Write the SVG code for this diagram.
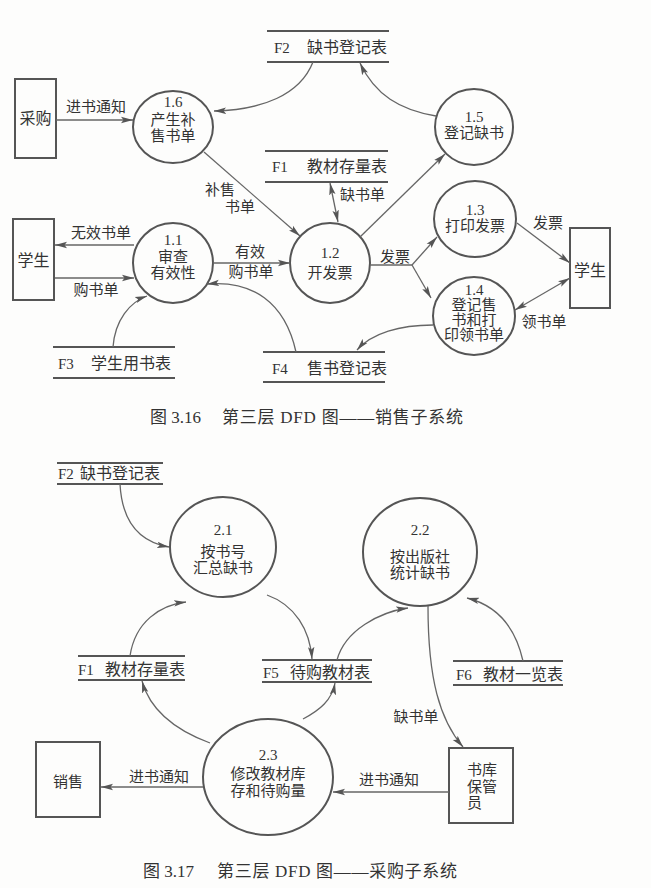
<svg xmlns="http://www.w3.org/2000/svg" width="651" height="888" viewBox="0 0 651 888">
<defs>
<marker id="ah" markerUnits="userSpaceOnUse" markerWidth="13" markerHeight="8" refX="12" refY="4" orient="auto-start-reverse">
<path d="M0,0.8 L12,4 L0,7.2 L2.5,4 z" fill="#555"/>
</marker>
<style>
.t{font-family:"Liberation Serif","Noto Sans CJK SC",serif;font-size:15px;fill:#333}
.c{text-anchor:middle}
.n{fill:none;stroke:#555;stroke-width:2}
.b{fill:none;stroke:#555;stroke-width:2}
.s{stroke:#555;stroke-width:2}
.e{fill:none;stroke:#666;stroke-width:1.3;marker-end:url(#ah)}
.d{fill:none;stroke:#666;stroke-width:1.3;marker-end:url(#ah);marker-start:url(#ah)}
.cap{font-family:"Liberation Serif","Noto Sans CJK SC",serif;font-size:17px;fill:#333}
</style>
</defs>
<rect width="651" height="888" fill="#fdfdfc"/>

<!-- ============ Figure 3.16 ============ -->
<g id="F2a"><line class="s" x1="267" y1="31" x2="389" y2="31"/><line class="s" x1="267" y1="62" x2="389" y2="62"/>
<text class="t" x="274" y="53">F2</text><text class="t" x="307" y="53" style="font-size:16px">缺书登记表</text></g>
<g id="caigou"><rect class="b" x="15" y="79" width="41" height="79"/><text class="t c" x="35.5" y="124" style="font-size:16px">采购</text></g>
<g id="p16"><ellipse class="n" cx="173" cy="127" rx="40" ry="36"/>
<text class="t c" x="173" y="107">1.6</text><text class="t c" x="173" y="125">产生补</text><text class="t c" x="173" y="141">售书单</text></g>
<g id="p15"><ellipse class="n" cx="474" cy="127" rx="39" ry="38"/>
<text class="t c" x="474" y="122">1.5</text><text class="t c" x="474" y="138">登记缺书</text></g>
<g id="F1a"><line class="s" x1="265" y1="151" x2="388" y2="151"/><line class="s" x1="265" y1="182" x2="388" y2="182"/>
<text class="t" x="272" y="172">F1</text><text class="t" x="307" y="172" style="font-size:16px">教材存量表</text></g>
<g id="p12"><ellipse class="n" cx="330" cy="263" rx="40" ry="40"/>
<text class="t c" x="330" y="258">1.2</text><text class="t c" x="330" y="278">开发票</text></g>
<g id="p11"><ellipse class="n" cx="173" cy="263" rx="40" ry="40"/>
<text class="t c" x="173" y="245">1.1</text><text class="t c" x="173" y="262">审查</text><text class="t c" x="173" y="278">有效性</text></g>
<g id="xs1"><rect class="b" x="13" y="219" width="41" height="81"/><text class="t c" x="33.5" y="266" style="font-size:16px">学生</text></g>
<g id="F3"><line class="s" x1="53" y1="347" x2="175" y2="347"/><line class="s" x1="53" y1="378" x2="175" y2="378"/>
<text class="t" x="58" y="369">F3</text><text class="t" x="91" y="369" style="font-size:16px">学生用书表</text></g>
<g id="F4"><line class="s" x1="263" y1="352" x2="385" y2="352"/><line class="s" x1="263" y1="382" x2="385" y2="382"/>
<text class="t" x="272" y="374">F4</text><text class="t" x="307" y="374" style="font-size:16px">售书登记表</text></g>
<g id="p13"><ellipse class="n" cx="475" cy="219" rx="41" ry="38"/>
<text class="t c" x="475" y="215">1.3</text><text class="t c" x="475" y="231">打印发票</text></g>
<g id="p14"><ellipse class="n" cx="474" cy="316" rx="41" ry="39"/>
<text class="t c" x="474" y="295">1.4</text><text class="t c" x="474" y="310">登记售</text><text class="t c" x="474" y="325">书和打</text><text class="t c" x="474" y="340">印领书单</text></g>
<g id="xs2"><rect class="b" x="570" y="228" width="40" height="80"/><text class="t c" x="590" y="276" style="font-size:16px">学生</text></g>
<text class="cap" x="150" y="423">图 3.16</text>
<text class="cap" x="222" y="423" textLength="241" lengthAdjust="spacing">第三层 DFD 图——销售子系统</text>

<!-- ============ Figure 3.17 ============ -->
<g id="F2b"><line class="s" x1="57" y1="463" x2="163" y2="463"/><line class="s" x1="57" y1="484" x2="163" y2="484"/>
<text class="t" x="58" y="479">F2</text><text class="t" x="80" y="479" style="font-size:16px">缺书登记表</text></g>
<g id="p21"><ellipse class="n" cx="223" cy="547" rx="53" ry="50"/>
<text class="t c" x="223" y="535">2.1</text><text class="t c" x="223" y="557">按书号</text><text class="t c" x="223" y="573">汇总缺书</text></g>
<g id="p22"><ellipse class="n" cx="420" cy="552" rx="57" ry="54"/>
<text class="t c" x="420" y="535">2.2</text><text class="t c" x="420" y="562">按出版社</text><text class="t c" x="420" y="578">统计缺书</text></g>
<g id="F1b"><line class="s" x1="78" y1="656" x2="185" y2="656"/><line class="s" x1="78" y1="680" x2="185" y2="680"/>
<text class="t" x="78" y="675">F1</text><text class="t" x="105" y="675" style="font-size:16px">教材存量表</text></g>
<g id="F5"><line class="s" x1="262" y1="660" x2="372" y2="660"/><line class="s" x1="262" y1="682" x2="372" y2="682"/>
<text class="t" x="263" y="678">F5</text><text class="t" x="290" y="678" style="font-size:16px">待购教材表</text></g>
<g id="F6"><line class="s" x1="453" y1="661" x2="563" y2="661"/><line class="s" x1="453" y1="685" x2="563" y2="685"/>
<text class="t" x="456" y="680">F6</text><text class="t" x="483" y="680" style="font-size:16px">教材一览表</text></g>
<g id="skbgy"><rect class="b" x="449" y="748" width="64" height="75"/>
<text class="t" x="467" y="775">书库</text><text class="t" x="467" y="792">保管</text><text class="t" x="467" y="808">员</text></g>
<g id="p23"><ellipse class="n" cx="268" cy="777" rx="65" ry="58"/>
<text class="t c" x="268" y="760">2.3</text><text class="t c" x="268" y="779">修改教材库</text><text class="t c" x="268" y="796">存和待购量</text></g>
<g id="xiaoshou"><rect class="b" x="36" y="742" width="64" height="75"/><text class="t c" x="68" y="787">销售</text></g>
<text class="cap" x="143" y="877">图 3.17</text>
<text class="cap" x="217" y="877" textLength="240" lengthAdjust="spacing">第三层 DFD 图——采购子系统</text>

<!-- ============ connectors ============ -->
<g id="connectors">
<path class="e" d="M56,120 L133,120"/>
<text class="t c" x="96" y="112">进书通知</text>
<path class="e" d="M313,62 C300,95 262,110 214,111"/>
<path class="e" d="M436,116 C400,110 375,95 360,63"/>
<path class="d" d="M330,183 L338,222"/>
<text class="t" x="340" y="200">缺书单</text>
<path class="e" d="M204,152 L300,236"/>
<text class="t" x="205" y="195">补售</text><text class="t" x="225" y="212">书单</text>
<path class="e" d="M360,237 L445,154"/>
<path class="e" d="M134,245 L55,245"/>
<text class="t c" x="101" y="238">无效书单</text>
<path class="e" d="M55,278 L134,278"/>
<text class="t c" x="96" y="295">购书单</text>
<path class="e" d="M213,263 L290,263"/>
<text class="t c" x="250" y="257">有效</text><text class="t c" x="251" y="277">购书单</text>
<path class="e" d="M113,347 C115,320 130,302 147,296"/>
<path class="e" d="M296,352 C285,302 252,280 207,284"/>
<path class="e" d="M433,325 C400,325 372,333 357,350"/>
<path fill="none" stroke="#666" stroke-width="1.3" d="M370,265 L412,265"/>
<path class="e" d="M412,265 L437,237"/>
<path class="e" d="M412,265 L431,298"/>
<text class="t c" x="395" y="262">发票</text>
<path class="e" d="M517,223 L570,263"/>
<text class="t c" x="548" y="228">发票</text>
<path class="d" d="M515,310 L570,278"/>
<text class="t c" x="544" y="327">领书单</text>

<path class="e" d="M120,484 C122,522 140,542 169,547"/>
<path class="e" d="M130,656 C135,622 160,605 186,602"/>
<path class="e" d="M267,595 C295,605 310,630 312,659"/>
<path class="e" d="M337,660 C345,630 380,612 408,608"/>
<path class="e" d="M523,661 C515,625 495,605 467,598"/>
<path class="e" d="M428,606 C428,680 440,720 463,747"/>
<text class="t c" x="416" y="722">缺书单</text>
<path class="e" d="M449,792 L333,792"/>
<text class="t c" x="389" y="785">进书通知</text>
<path class="e" d="M210,743 C175,730 150,710 142,681"/>
<path class="e" d="M303,719 C320,710 332,700 335,683"/>
<path class="e" d="M203,787 L101,787"/>
<text class="t c" x="159" y="782">进书通知</text>
</g>
</svg>
